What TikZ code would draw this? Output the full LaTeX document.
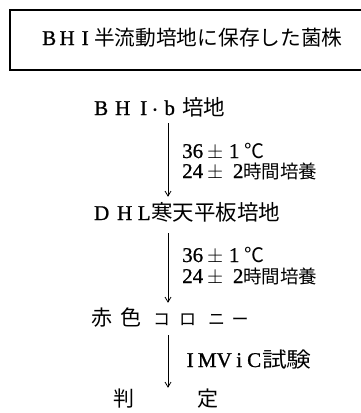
\documentclass[tikz,border=0pt]{standalone}
\usepackage{fontspec}
\setmainfont{Liberation Serif}[FakeBold=0.9]
\usetikzlibrary{arrows.meta}
\newfontfamily\jp{Noto Sans CJK JP}
\newcommand\cc[2]{\makebox[#1pt][c]{#2}}
\newcommand\lt{\fontsize{21}{21}\selectfont}
\begin{document}
\begin{tikzpicture}[x=1pt,y=-1pt,
  txt/.style={inner sep=0pt, anchor=base west, text height=15pt, text depth=3pt},
  arr/.style={line width=0.8pt, -{Straight Barb[length=5pt,width=6pt]}}]
\useasboundingbox (0,0) rectangle (360,413);
\draw[line width=1.3pt] (362,10) -- (10,10) -- (10,70) -- (362,70);
\node[txt] (title) at (40,45) {\lt\cc{18}{B}\cc{18}{H}\cc{18}{I}{\jp\fontsize{20.7}{20.7}\selectfont 半流動培地に保存した菌株}};
\node[txt] (bhi) at (91,115) {\lt\cc{20}{B}\cc{23}{H}\cc{19}{I}\cc{4}{\jp\fontsize{14}{14}\selectfont ・}\cc{25}{b}{\jp\fontsize{21.5}{21.5}\selectfont 培地}};
\node[txt] (dhl) at (91,220) {\lt\cc{21}{D}\cc{25}{H}\cc{14}{L}{\jp\fontsize{21.5}{21.5}\selectfont 寒天平板培地}};
\node[txt] (red) at (91,325) {\jp\fontsize{21}{21}\selectfont\cc{22}{赤}\cc{36}{色}\cc{25}{\fontsize{17}{17}\selectfont コ}\cc{27}{\fontsize{17}{17}\selectfont ロ}\cc{31}{\fontsize{17}{17}\selectfont ニ}\cc{16}{\fontsize{17}{17}\selectfont ー}};
\node[txt] (judge) at (113,406) {\jp\fontsize{21}{21}\selectfont\cc{22}{判}\hspace{62pt}\cc{21}{定}};
\coordinate (ax) at (168,0);
\draw[arr, shorten <=5pt, shorten >=8pt] (bhi.south -| ax) -- (dhl.north -| ax);
\draw[arr, shorten <=10pt, shorten >=7pt] (dhl.south -| ax) -- (red.north -| ax);
\draw[arr, shorten <=7pt, shorten >=3pt] (red.south -| ax) -- (judge.north -| ax);
\node[txt] (t1a) at (182,158) {\lt 36\hspace{3pt}\cc{18}{$\pm$}\hspace{5pt}\cc{10}{1}\hspace{4pt}\cc{22}{\jp\fontsize{20}{20}\selectfont ℃}};
\node[txt] (t1b) at (182,178) {\lt 24\hspace{3pt}\cc{18}{$\pm$}\hspace{9pt}\cc{10}{2}{\jp\fontsize{18.5}{18.5}\selectfont 時間培養}};
\node[txt] (t2a) at (182,262) {\lt 36\hspace{3pt}\cc{18}{$\pm$}\hspace{5pt}\cc{10}{1}\hspace{4pt}\cc{22}{\jp\fontsize{20}{20}\selectfont ℃}};
\node[txt] (t2b) at (182,283) {\lt 24\hspace{3pt}\cc{18}{$\pm$}\hspace{9pt}\cc{10}{2}{\jp\fontsize{18.5}{18.5}\selectfont 時間培養}};
\node[txt] (t3) at (182,367) {\lt\cc{16}{I}\cc{18}{M}\cc{16}{V}\cc{14}{i}\cc{16}{C}{\jp\fontsize{21}{21}\selectfont\scalebox{1.18}[1]{試験}}};
\end{tikzpicture}
\end{document}
